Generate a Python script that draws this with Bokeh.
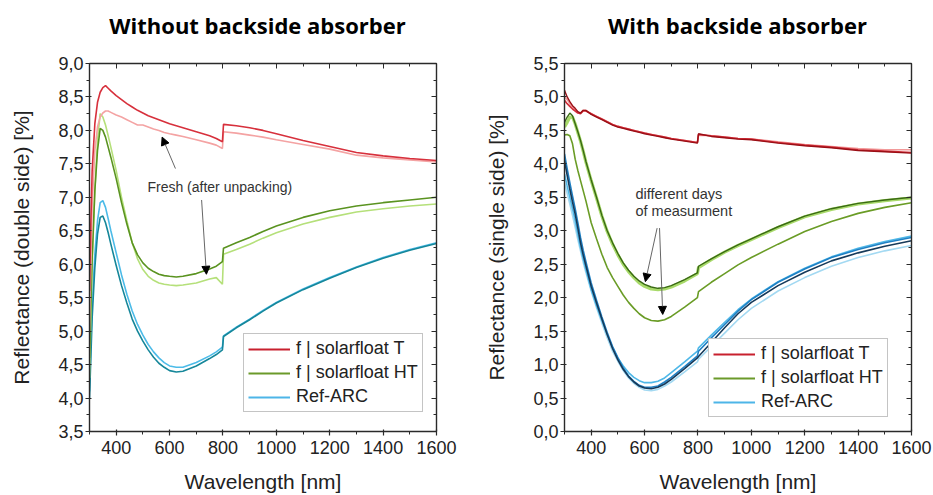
from bokeh.plotting import figure
from bokeh.layouts import row, column
from bokeh.models import (Range1d, LinearAxis, FixedTicker, CustomJSTickFormatter,
                          Legend, LegendItem, Label, Arrow, NormalHead)
from bokeh.embed import file_html
from bokeh.resources import INLINE

# ---------------- data: left panel (without backside absorber) ----------------
WL_L = [300, 305, 310, 320, 330, 340, 350, 360, 370, 380, 400, 420, 440, 460, 480, 500, 520, 540,
        560, 580, 600, 625, 650, 700, 750, 775, 798, 802, 850, 900, 950, 1000, 1100, 1200, 1300,
        1400, 1500, 1600]
L_T_AGED = [5.6, 6.6, 7.4, 8.1, 8.42, 8.57, 8.64, 8.67, 8.63, 8.59, 8.52, 8.46, 8.4, 8.35, 8.3, 8.26,
            8.22, 8.19, 8.16, 8.13, 8.10, 8.07, 8.04, 7.98, 7.92, 7.88, 7.83, 8.09, 8.07, 8.04, 8.0,
            7.95, 7.85, 7.76, 7.67, 7.62, 7.58, 7.55]
L_T_FRESH = [5.0, 6.0, 6.9, 7.7, 8.05, 8.2, 8.26, 8.29, 8.29, 8.27, 8.23, 8.2, 8.16, 8.12, 8.08, 8.08,
             8.05, 8.02, 8.0, 7.97, 7.95, 7.93, 7.91, 7.86, 7.81, 7.78, 7.73, 7.98, 7.96, 7.93, 7.9,
             7.86, 7.79, 7.72, 7.63, 7.59, 7.56, 7.53]
L_HT_AGED = [4.6, 5.4, 6.1, 7.1, 7.7, 8.03, 8.0, 7.9, 7.75, 7.6, 7.28, 6.92, 6.6, 6.32, 6.14, 6.02,
             5.94, 5.89, 5.85, 5.83, 5.82, 5.81, 5.82, 5.86, 5.93, 5.97, 6.04, 6.24, 6.32, 6.4, 6.49,
             6.57, 6.7, 6.8, 6.87, 6.92, 6.96, 7.0]
L_HT_FRESH = [4.3, 5.2, 6.0, 7.1, 7.85, 8.25, 8.2, 8.08, 7.92, 7.75, 7.4, 7.0, 6.65, 6.32, 6.08, 5.92,
              5.82, 5.76, 5.72, 5.7, 5.69, 5.68, 5.69, 5.72, 5.78, 5.8, 5.7, 6.15, 6.22, 6.3, 6.39,
              6.47, 6.6, 6.7, 6.78, 6.83, 6.87, 6.9]
L_REF_A = [4.0, 4.6, 5.2, 5.95, 6.45, 6.7, 6.72, 6.62, 6.47, 6.3, 5.98, 5.68, 5.42, 5.18, 5.0, 4.85,
           4.72, 4.61, 4.52, 4.46, 4.41, 4.39, 4.40, 4.48, 4.59, 4.65, 4.72, 4.92, 5.05, 5.17, 5.3,
           5.42, 5.62, 5.79, 5.95, 6.09, 6.21, 6.31]
L_REF_B = [4.1, 4.8, 5.4, 6.15, 6.65, 6.92, 6.95, 6.85, 6.68, 6.5, 6.17, 5.84, 5.55, 5.3, 5.1, 4.94,
           4.8, 4.69, 4.6, 4.53, 4.48, 4.46, 4.46, 4.53, 4.63, 4.69, 4.76, 4.93, 5.06, 5.18, 5.31,
           5.43, 5.63, 5.8, 5.96, 6.1, 6.22, 6.32]

# ---------------- data: right panel (with backside absorber) ----------------
WL_R = [300, 310, 320, 330, 340, 350, 360, 370, 380, 400, 420, 440, 460, 480, 500, 520, 540, 560,
        580, 600, 625, 650, 675, 700, 750, 798, 802, 850, 900, 950, 1000, 1100, 1200, 1300, 1400,
        1500, 1600]
R_T_1 = [5.1, 5.0, 4.93, 4.87, 4.83, 4.78, 4.76, 4.8, 4.8, 4.74, 4.7, 4.66, 4.62, 4.58, 4.55, 4.53,
         4.51, 4.49, 4.47, 4.45, 4.43, 4.41, 4.39, 4.37, 4.34, 4.31, 4.45, 4.41, 4.39, 4.37, 4.36,
         4.31, 4.27, 4.24, 4.2, 4.18, 4.16]
R_T_2 = [4.95, 4.9, 4.86, 4.82, 4.79, 4.76, 4.75, 4.79, 4.79, 4.75, 4.71, 4.67, 4.63, 4.59, 4.56, 4.54,
         4.52, 4.5, 4.48, 4.46, 4.44, 4.42, 4.4, 4.38, 4.35, 4.32, 4.44, 4.42, 4.4, 4.38, 4.37,
         4.32, 4.28, 4.25, 4.21, 4.19, 4.17]
R_T_3 = [5.0, 4.96, 4.9, 4.85, 4.81, 4.77, 4.76, 4.8, 4.8, 4.75, 4.71, 4.67, 4.63, 4.59, 4.56, 4.54,
         4.52, 4.5, 4.48, 4.46, 4.44, 4.42, 4.4, 4.38, 4.35, 4.32, 4.43, 4.42, 4.4, 4.38, 4.37,
         4.33, 4.29, 4.26, 4.23, 4.21, 4.21]
R_HT_1 = [4.62, 4.7, 4.76, 4.72, 4.6, 4.48, 4.35, 4.2, 4.04, 3.76, 3.5, 3.23, 3.0, 2.82, 2.66, 2.52,
          2.41, 2.32, 2.25, 2.2, 2.16, 2.14, 2.15, 2.18, 2.27, 2.37, 2.47, 2.58, 2.69, 2.79, 2.88,
          3.06, 3.22, 3.33, 3.41, 3.46, 3.5]
R_HT_2 = [4.55, 4.62, 4.7, 4.7, 4.6, 4.47, 4.34, 4.19, 4.03, 3.75, 3.49, 3.22, 2.99, 2.8, 2.64, 2.5,
          2.39, 2.3, 2.22, 2.17, 2.13, 2.12, 2.13, 2.16, 2.25, 2.36, 2.45, 2.57, 2.68, 2.78, 2.87,
          3.05, 3.21, 3.32, 3.4, 3.45, 3.49]
R_HT_3 = [4.43, 4.44, 4.42, 4.3, 4.07, 3.9, 3.75, 3.6, 3.45, 3.12, 2.88, 2.65, 2.45, 2.3, 2.17, 2.04,
          1.93, 1.84, 1.76, 1.7, 1.66, 1.65, 1.67, 1.72, 1.86, 2.0, 2.09, 2.23, 2.36, 2.49, 2.6,
          2.8, 2.99, 3.14, 3.26, 3.35, 3.42]
R_REF_1 = [4.05, 3.83, 3.62, 3.43, 3.25, 3.04, 2.82, 2.64, 2.48, 2.17, 1.92, 1.68, 1.45, 1.24, 1.07,
           0.93, 0.82, 0.74, 0.68, 0.65, 0.64, 0.66, 0.71, 0.78, 0.94, 1.1, 1.12, 1.33, 1.55, 1.76,
           1.93, 2.18, 2.38, 2.55, 2.67, 2.77, 2.85]
R_REF_2 = [4.15, 3.93, 3.72, 3.52, 3.33, 3.12, 2.9, 2.71, 2.54, 2.22, 1.96, 1.71, 1.48, 1.27, 1.1,
           0.95, 0.83, 0.75, 0.69, 0.66, 0.66, 0.68, 0.74, 0.81, 0.97, 1.13, 1.2, 1.4, 1.6, 1.8,
           1.97, 2.23, 2.43, 2.6, 2.72, 2.82, 2.9]
R_REF_3 = [3.85, 3.67, 3.5, 3.33, 3.15, 2.95, 2.75, 2.58, 2.42, 2.12, 1.88, 1.66, 1.45, 1.26, 1.1,
           0.98, 0.88, 0.81, 0.76, 0.73, 0.73, 0.75, 0.8, 0.88, 1.04, 1.2, 1.25, 1.44, 1.63, 1.82,
           1.98, 2.24, 2.44, 2.61, 2.74, 2.84, 2.92]
R_REF_4 = [3.72, 3.56, 3.4, 3.23, 3.05, 2.87, 2.7, 2.53, 2.38, 2.1, 1.85, 1.62, 1.4, 1.2, 1.05,
           0.91, 0.8, 0.72, 0.66, 0.62, 0.61, 0.63, 0.68, 0.74, 0.89, 1.04, 1.08, 1.27, 1.47, 1.67,
           1.84, 2.1, 2.3, 2.47, 2.6, 2.7, 2.78]

X_TICKS = [400, 600, 800, 1000, 1200, 1400, 1600]
X_MINOR = list(range(300, 1601, 100))
Y_TICKS_L = [3.5, 4.0, 4.5, 5.0, 5.5, 6.0, 6.5, 7.0, 7.5, 8.0, 8.5, 9.0]
Y_TICKS_R = [0.0, 0.5, 1.0, 1.5, 2.0, 2.5, 3.0, 3.5, 4.0, 4.5, 5.0, 5.5]
TITLES = ["Without backside absorber", "With backside absorber"]
LEGEND_LABELS = ["f | solarfloat T", "f | solarfloat HT", "Ref-ARC"]
LEGEND_COLORS = ["#c8202e", "#6b9a2a", "#4db5e8"]

FONT = "Liberation Sans"
AX_COL = "#2a2a2a"
TITLE_H = 40


def title_fig(text, width, xcenter):
    t = figure(width=width, height=TITLE_H, x_range=Range1d(0, width), y_range=Range1d(0, TITLE_H),
               output_backend="svg", toolbar_location=None,
               min_border_left=0, min_border_right=0, min_border_top=0, min_border_bottom=0)
    t.axis.visible = False
    t.grid.visible = False
    t.outline_line_color = None
    t.background_fill_color = "white"
    t.border_fill_color = "white"
    t.add_layout(Label(x=xcenter, y=TITLE_H - 24, text=text, text_font="Open Sans",
                       text_font_style="bold", text_font_size="22px", text_color="black",
                       text_align="center", text_baseline="middle"))
    return t


def make_fig(ylabel, yr, yticks, width, bl, br):
    p = figure(width=width, height=495 - TITLE_H, x_range=Range1d(300, 1600), y_range=Range1d(*yr),
               output_backend="svg", toolbar_location=None,
               min_border_left=bl, min_border_right=br, min_border_top=63 - TITLE_H, min_border_bottom=62)
    p.outline_line_color = None
    p.xgrid.visible = False
    p.ygrid.visible = False
    p.background_fill_color = "white"
    p.border_fill_color = "white"
    yminor = [yr[0] + 0.25 * i for i in range(int(round((yr[1] - yr[0]) / 0.25)) + 1)]
    xt = FixedTicker(ticks=X_TICKS, minor_ticks=X_MINOR)
    yt = FixedTicker(ticks=yticks, minor_ticks=yminor)
    fmt = CustomJSTickFormatter(code="return tick.toFixed(1).replace('.', ',');")
    blank = CustomJSTickFormatter(code="return '';")

    xa = p.xaxis[0]
    xa.ticker = xt
    ya = p.yaxis[0]
    ya.ticker = yt
    ya.formatter = fmt
    for ax in (xa, ya):
        ax.axis_line_color = AX_COL
        ax.axis_line_width = 1.4
        ax.major_tick_line_color = AX_COL
        ax.minor_tick_line_color = AX_COL
        ax.major_tick_line_width = 1.2
        ax.minor_tick_line_width = 1.0
        ax.major_tick_out = 4
        ax.major_tick_in = 2
        ax.minor_tick_out = 3
        ax.minor_tick_in = 0
        ax.major_label_text_font = FONT
        ax.major_label_text_font_size = "18px"
        ax.major_label_text_color = "#222222"
        ax.axis_label_text_font = FONT
        ax.axis_label_text_font_size = "21px"
        ax.axis_label_text_font_style = "normal"
        ax.axis_label_text_color = "#222222"
    xa.axis_label = "Wavelength [nm]"
    xa.major_label_standoff = 5
    xa.axis_label_standoff = 13
    ya.axis_label = ylabel
    ya.major_label_standoff = 2
    ya.axis_label_standoff = 22

    top = LinearAxis(ticker=xt, formatter=blank)
    right = LinearAxis(ticker=yt, formatter=blank)
    for ax in (top, right):
        ax.axis_line_color = AX_COL
        ax.axis_line_width = 1.4
        ax.major_tick_line_color = AX_COL
        ax.minor_tick_line_color = AX_COL
        ax.major_tick_in = 5
        ax.major_tick_out = 0
        ax.minor_tick_in = 3
        ax.minor_tick_out = 0
        ax.major_label_standoff = 0
    p.add_layout(top, "above")
    p.add_layout(right, "right")
    return p


def add_legend(p, loc):
    items = []
    for lab, col in zip(LEGEND_LABELS, LEGEND_COLORS):
        r = p.line(x=[0, 1], y=[-100, -100], line_color=col, line_width=2.2)
        items.append(LegendItem(label=lab, renderers=[r]))
    lg = Legend(items=items, location=loc)
    lg.label_text_font = FONT
    lg.label_text_font_size = "18px"
    lg.label_text_color = "#222222"
    lg.glyph_width = 42
    lg.glyph_height = 20
    lg.label_height = 20
    lg.label_standoff = 6
    lg.spacing = 3
    lg.padding = 4
    lg.margin = 0
    lg.border_line_color = "#8a8a8a"
    lg.border_line_width = 1.5
    lg.background_fill_color = "white"
    lg.background_fill_alpha = 1.0
    p.add_layout(lg, "center")


# ---------------- left figure ----------------
pl = make_fig("Reflectance (double side) [%]", (3.5, 9.0), Y_TICKS_L, 467, 89, 31)
pl.line(WL_L, L_REF_B, line_color="#4cbbe8", line_width=1.6)
pl.line(WL_L, L_REF_A, line_color="#16879a", line_width=1.6)
pl.line(WL_L, L_HT_FRESH, line_color="#b5e07a", line_width=1.6)
pl.line(WL_L, L_HT_AGED, line_color="#5a9320", line_width=1.6)
pl.line(WL_L, L_T_FRESH, line_color="#f4a3a3", line_width=1.6)
pl.line(WL_L, L_T_AGED, line_color="#d7303c", line_width=1.6)
pl.add_layout(Label(x=517, y=7.16, text="Fresh (after unpacking)", text_font=FONT,
                    text_font_size="14px", text_color="#333333", text_baseline="middle", text_align="left"))
pl.add_layout(Arrow(end=NormalHead(size=8, fill_color="black", line_color="black"),
                    x_start=622, y_start=7.43, x_end=572, y_end=7.90, line_color="#666666", line_width=1))
pl.add_layout(Arrow(end=NormalHead(size=8, fill_color="black", line_color="black"),
                    x_start=720, y_start=6.96, x_end=738, y_end=5.85, line_color="#666666", line_width=1))
add_legend(pl, (154, 19))

# ---------------- right figure ----------------
pr = make_fig("Reflectance (single side) [%]", (0.0, 5.5), Y_TICKS_R, 466, 97, 22)
pr.line(WL_R, R_REF_4, line_color="#a3d9f2", line_width=1.6)
pr.line(WL_R, R_REF_3, line_color="#4fb8e8", line_width=1.6)
pr.line(WL_R, R_REF_2, line_color="#1f80c4", line_width=1.6)
pr.line(WL_R, R_REF_1, line_color="#163a5a", line_width=1.6)
pr.line(WL_R, R_HT_3, line_color="#6a9c26", line_width=1.6)
pr.line(WL_R, R_HT_2, line_color="#a8da6a", line_width=3.2)
pr.line(WL_R, R_HT_1, line_color="#3a6a14", line_width=1.4)
pr.line(WL_R, R_T_3, line_color="#f29a9a", line_width=1.6)
pr.line(WL_R, R_T_2, line_color="#d32f3a", line_width=1.6)
pr.line(WL_R, R_T_1, line_color="#9a0f16", line_width=1.4)
pr.add_layout(Label(x=566, y=3.55, text="different days", text_font=FONT,
                    text_font_size="14.5px", text_color="#333333", text_baseline="middle", text_align="left"))
pr.add_layout(Label(x=566, y=3.29, text="of measurment", text_font=FONT,
                    text_font_size="14.5px", text_color="#333333", text_baseline="middle", text_align="left"))
pr.add_layout(Arrow(end=NormalHead(size=8, fill_color="black", line_color="black"),
                    x_start=647, y_start=3.04, x_end=603, y_end=2.24, line_color="#666666", line_width=1))
pr.add_layout(Arrow(end=NormalHead(size=8, fill_color="black", line_color="black"),
                    x_start=656, y_start=3.04, x_end=668, y_end=1.75, line_color="#666666", line_width=1))
add_legend(pr, (144, 14))

tl = title_fig(TITLES[0], 467, 257)
tr = title_fig(TITLES[1], 466, 737 - 467)

layout = column(row(tl, tr), row(pl, pr))
open("out.html", "w").write(file_html(layout, INLINE))
